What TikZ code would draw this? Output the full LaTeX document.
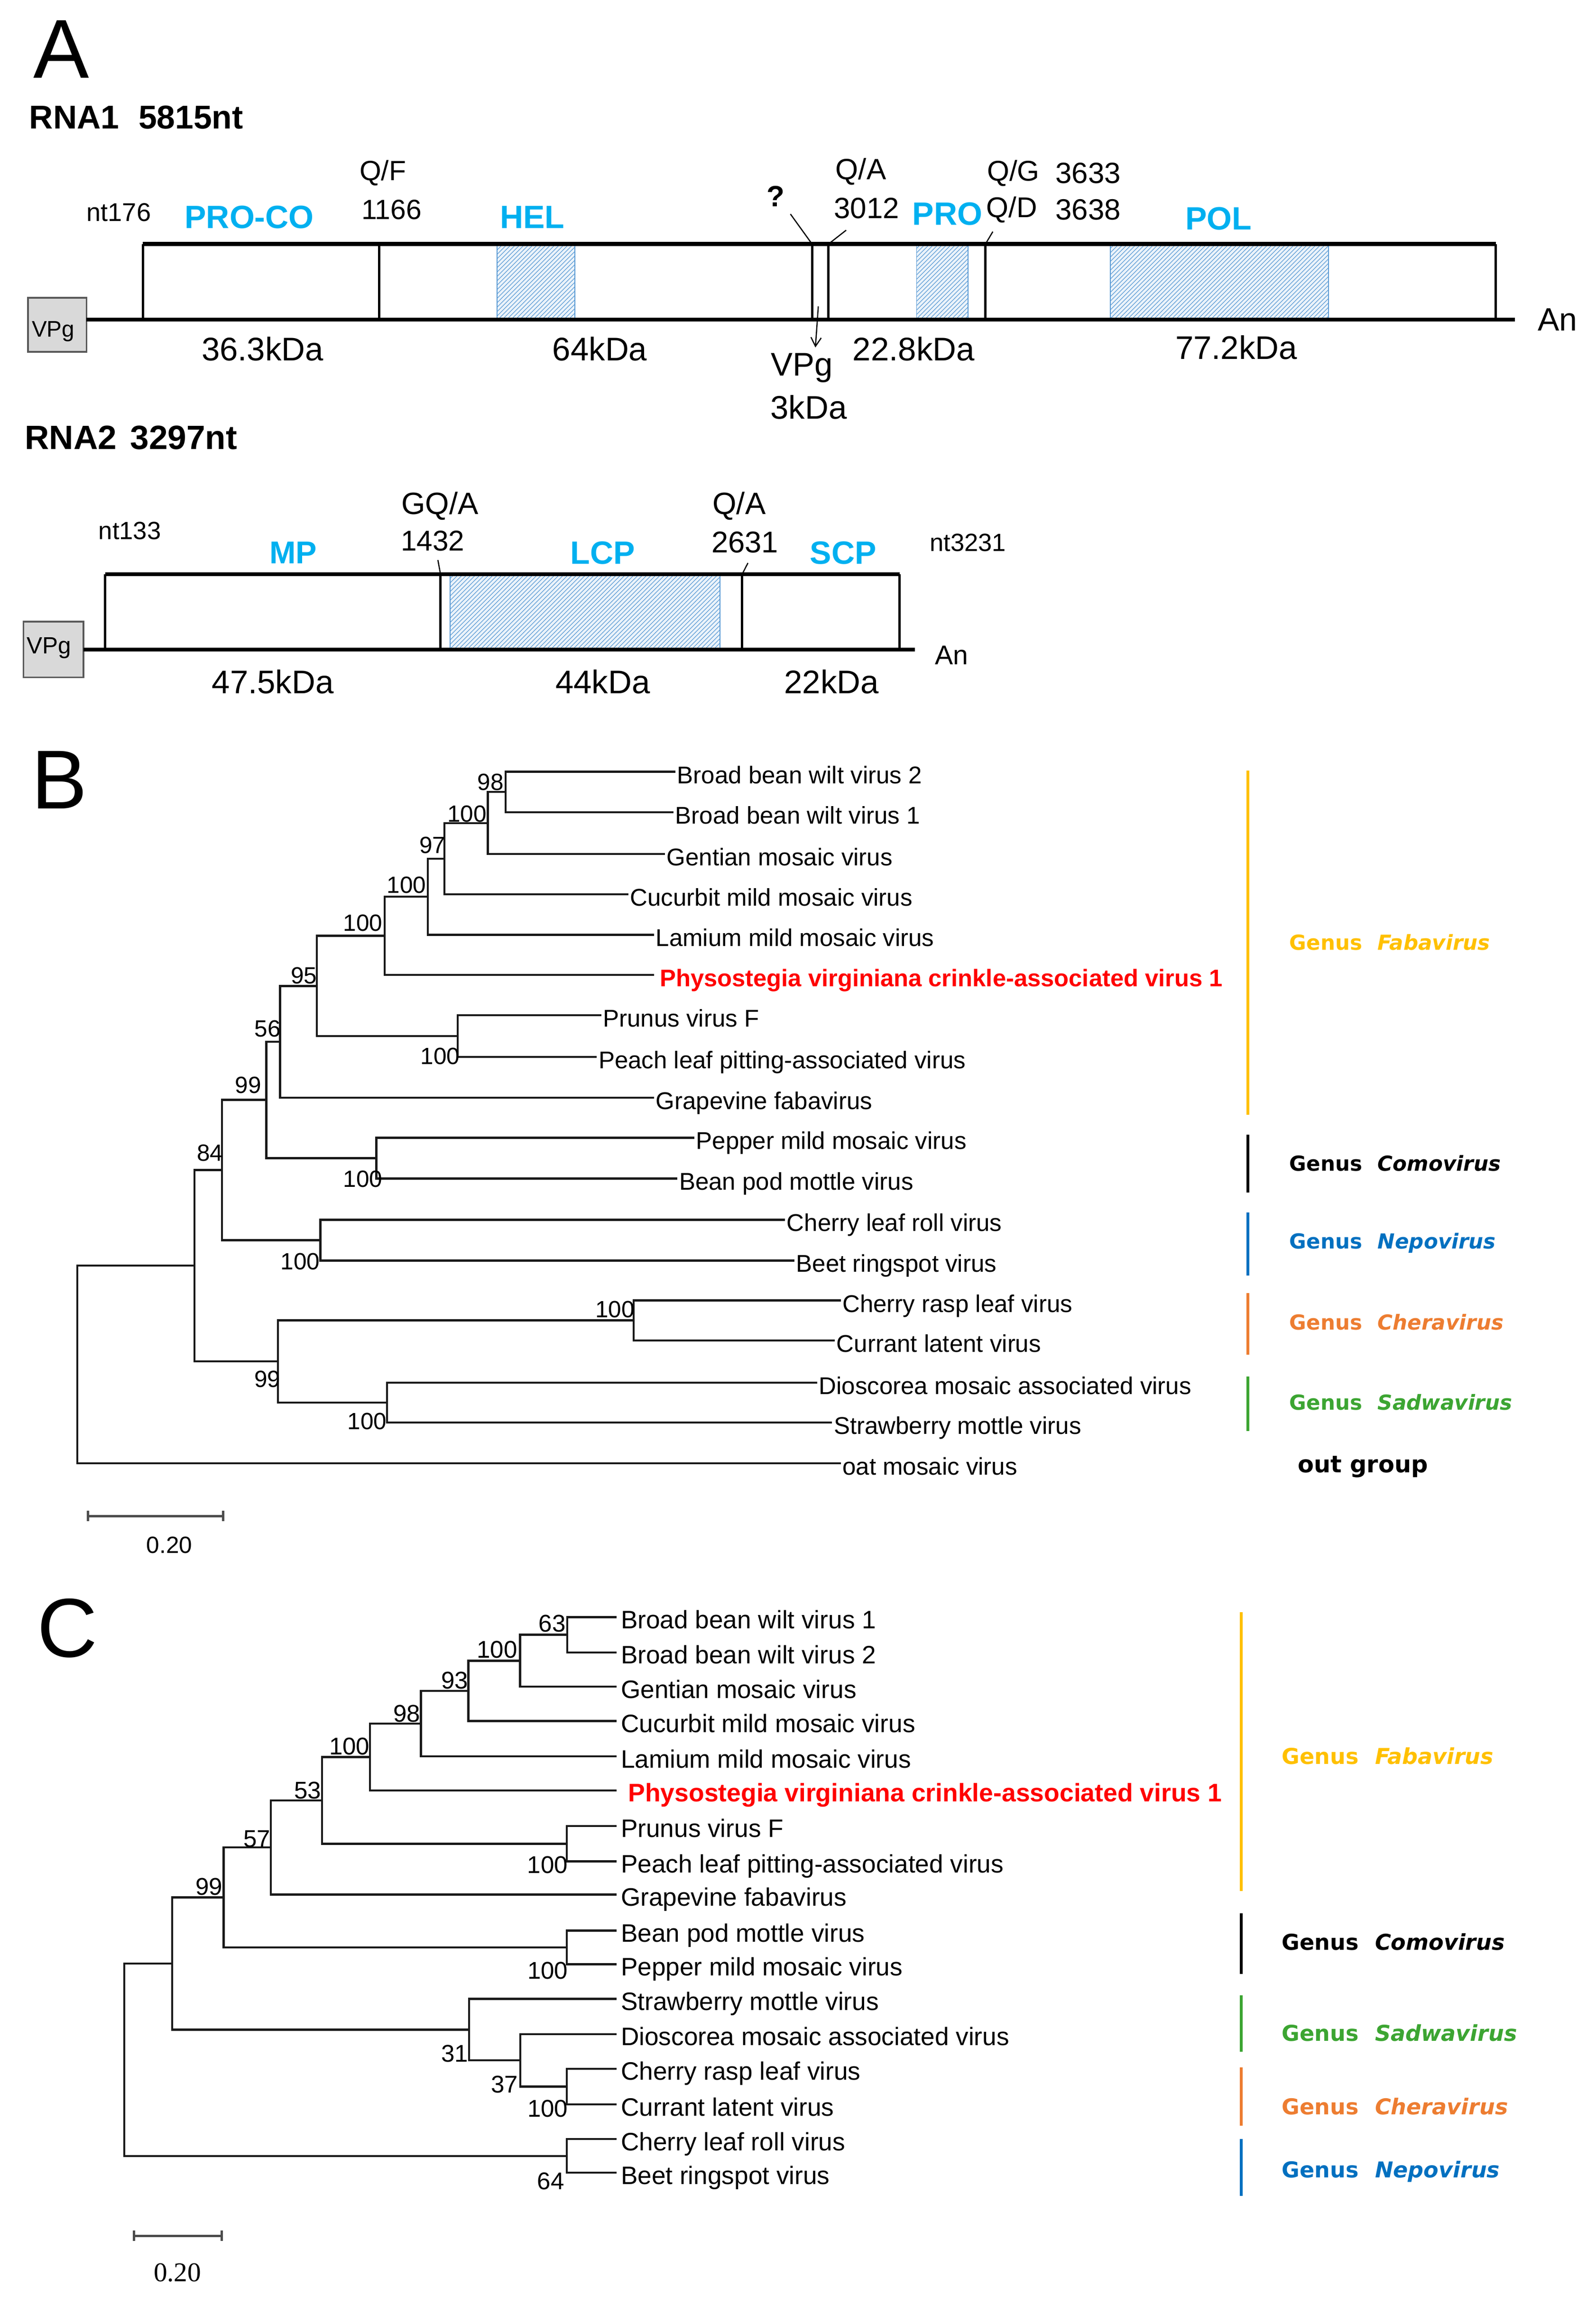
\documentclass[tikz,border=0pt]{standalone}
\usepackage{fontspec}
\setmainfont{Liberation Sans}
\newfontfamily\dvsans{DejaVu Sans}
\newfontfamily\lserif{Liberation Serif}
\usetikzlibrary{patterns,arrows.meta}
\definecolor{cyanlbl}{RGB}{0,176,240}
\definecolor{hatchblue}{RGB}{91,155,213}
\definecolor{faba}{RGB}{255,192,0}
\definecolor{como}{RGB}{0,0,0}
\definecolor{nepo}{RGB}{0,112,192}
\definecolor{chera}{RGB}{237,125,49}
\definecolor{sadwa}{RGB}{60,165,50}
\definecolor{virusred}{RGB}{255,0,0}
\definecolor{vpggray}{RGB}{217,217,217}
\newcommand\fsz[1]{\fontsize{#1pt}{#1pt}\selectfont}
\begin{document}
\begin{tikzpicture}[x=1pt,y=-1pt,
 every node/.style={inner sep=0pt,outer sep=0pt},
 panel/.style={font=\fsz{57}},
 rnatitle/.style={anchor=base west,font=\bfseries\fsz{22.5}},
 protlbl/.style={font=\bfseries\fsz{22},text=cyanlbl},
 kdalbl/.style={font=\fsz{22.3}},
 boxedge/.style={line width=1.6pt},
 boxlong/.style={line width=2.6pt},
 leader/.style={line width=0.8pt},
 ptr/.style={line width=0.8pt,-{Straight Barb[length=6pt,width=7pt]}},
 hatch/.style={fill=hatchblue!12,postaction={pattern=north east lines,pattern color=hatchblue},draw=hatchblue,line width=0.6pt},
 vpgbox/.style={fill=vpggray,draw=black!65,line width=1.2pt},
 branch/.style={line width=1.4pt,draw=black!90},
 taxB/.style={anchor=base west,font=\fsz{16.5},xshift=1.2pt,yshift=-7.9pt},
 redB/.style={anchor=base west,font=\bfseries\fsz{16.4},text=virusred,xshift=4pt,yshift=-7.9pt},
 taxC/.style={anchor=base west,font=\fsz{17.2},xshift=3pt,yshift=-7.7pt},
 redC/.style={anchor=base west,font=\bfseries\fsz{17.3},text=virusred,xshift=8pt,yshift=-7.7pt},
 bsB/.style={anchor=base east,font=\fsz{16}},
 bsC/.style={anchor=base east,font=\fsz{16.5}},
 genusB/.style={anchor=base west,font=\dvsans\bfseries\fsz{14.1}},
 genusC/.style={anchor=base west,font=\dvsans\bfseries\fsz{14.9}},
 genusbar/.style={line width=2pt},
 scalebar/.style={line width=1.6pt,draw=black!70,{Bar[width=7pt]}-{Bar[width=7pt]}}
]
\fill[white] (0,0) rectangle (1088,1571.5);
\useasboundingbox (0,0) rectangle (1088,1571.5);

%================ PANEL A =================
\node[panel] (pA) at (41.7,33.5) {A};
\node[rnatitle] (rna1) at (20,87.9) {RNA1\hspace{0.59em}5815nt};

% RNA1 genome
\draw[hatch] (339,166.4) rectangle (392,218);
\draw[hatch] (625,166.4) rectangle (660,218);
\draw[hatch] (757,166.4) rectangle (906,218);
\draw[boxlong] (97.4,166.4) -- (1020,166.4);
\draw[boxedge] (97.4,166.4) -- (97.4,218);
\draw[boxedge] (1020,166.4) -- (1020,218);
\draw[boxedge] (258.5,166.4) -- (258.5,218);
\draw[boxedge] (553.7,166.4) -- (553.7,218);
\draw[boxedge] (564.7,166.4) -- (564.7,218);
\draw[boxedge] (672,166.4) -- (672,218);
\draw[vpgbox] (19,203) rectangle (59,240);
\draw[boxlong] (59,218) -- (1033,218);
\node[font=\fsz{15.4}] (vpg1) at (36.3,226) {VPg};

\node[font=\fsz{17.5}] (nt176) at (81,145) {nt176};
\node[protlbl] (proco) at (170,148) {PRO-CO};
\node[font=\fsz{19}] (qf) at (261,118) {Q/F};
\node[font=\fsz{19}] (s1166) at (267,143) {1166};
\node[protlbl] (hel) at (363,148) {HEL};
\node[font=\bfseries\fsz{20}] (qm) at (529,134) {?};
\node[font=\fsz{20}] (qa1) at (587,117) {Q/A};
\node[font=\fsz{20}] (s3012) at (591,142) {3012};
\node[protlbl] (pro) at (646,146) {PRO};
\node[font=\fsz{19.5}] (qg) at (691,118) {Q/G};
\node[font=\fsz{20}] (s3633) at (742,118) {3633};
\node[font=\fsz{19.5}] (qd) at (690,143) {Q/D};
\node[font=\fsz{20}] (s3638) at (742,143) {3638};
\node[protlbl] (pol) at (831,149) {POL};
\node[font=\fsz{22}] (an1) at (1062,218) {An};
\node[kdalbl] (k363) at (179,238) {36.3kDa};
\node[kdalbl] (k64) at (409,238) {64kDa};
\node[kdalbl] (k228) at (623,238) {22.8kDa};
\node[kdalbl] (k772) at (843,237) {77.2kDa};
\node[kdalbl] (vpg1b) at (546.7,251) {VPg};
\node[kdalbl] (k3) at (551.4,277.7) {3kDa};

\coordinate (lq1) at (539,146); \coordinate (lq2) at (553.7,166.4);
\coordinate (la1) at (577,157); \coordinate (la2) at (565,166.4);
\coordinate (lg1) at (677,158); \coordinate (lg2) at (672,166.4);
\draw[leader] (lq1) -- (lq2);
\draw[leader] (la1) -- (la2);
\draw[leader] (lg1) -- (lg2);
\coordinate (arrS) at (558,209); \coordinate (arrE) at (556,237);
\draw[ptr] (arrS) -- (arrE);

% RNA2 genome
\node[anchor=base west,font=\bfseries\fsz{23}] (rna2) at (17,306.4) {RNA2\hspace{0.4em}3297nt};
\draw[hatch] (307,391.8) rectangle (491,443);
\draw[boxlong] (71.7,391.8) -- (613.5,391.8);
\draw[boxedge] (71.7,391.8) -- (71.7,443);
\draw[boxedge] (613.5,391.8) -- (613.5,443);
\draw[boxedge] (300.4,391.8) -- (300.4,443);
\draw[boxedge] (506,391.8) -- (506,443);
\draw[vpgbox] (16,424) rectangle (57,462);
\draw[boxlong] (57,443) -- (624,443);
\node[font=\fsz{16}] (vpg2) at (33.4,442) {VPg};

\node[font=\fsz{17}] (nt133) at (88.5,362) {nt133};
\node[protlbl,font=\bfseries\fsz{21.5}] (mp) at (200,377) {MP};
\node[font=\fsz{21}] (gqa) at (300,345) {GQ/A};
\node[font=\fsz{19.5}] (s1432) at (295,369) {1432};
\node[protlbl] (lcp) at (411,377) {LCP};
\node[font=\fsz{21}] (qa2) at (504,345) {Q/A};
\node[font=\fsz{20.5}] (s2631) at (508,370) {2631};
\node[protlbl] (scp) at (575,377) {SCP};
\node[font=\fsz{17}] (nt3231) at (660,370) {nt3231};
\node[font=\fsz{18.5}] (an2) at (649,447) {An};
\node[kdalbl] (k475) at (186,465) {47.5kDa};
\node[kdalbl] (k44) at (411,465) {44kDa};
\node[kdalbl] (k22) at (567,465) {22kDa};
\coordinate (lm1) at (298.6,382); \coordinate (lm2) at (300.4,391.8);
\coordinate (ln1) at (510,384); \coordinate (ln2) at (506,391.8);
\draw[leader] (lm1) -- (lm2);
\draw[leader] (ln1) -- (ln2);

%================ PANEL B =================
\node[panel] (pB) at (40.5,532) {B};
\coordinate (b1) at (460.6,526.4);
\coordinate (b2) at (459.3,554);
\coordinate (b3) at (453.4,582.5);
\coordinate (b4) at (428.5,610);
\coordinate (b5) at (446,637.6);
\coordinate (b6) at (446,664.9);
\coordinate (b7) at (410,692.4);
\coordinate (b8) at (407,721);
\coordinate (b9) at (446,748.6);
\coordinate (b10) at (473.5,776);
\coordinate (b11) at (462,803.8);
\coordinate (b12) at (535.3,832);
\coordinate (b13) at (541.7,859.8);
\coordinate (b14) at (573.3,887);
\coordinate (b15) at (569.3,914.3);
\coordinate (b16) at (557.2,943);
\coordinate (b17) at (567.4,970.3);
\coordinate (b18) at (573.3,998);
\coordinate (nA) at (344.8,540.2);
\coordinate (nB) at (332.6,561.35);
\coordinate (nC) at (303,585.7);
\coordinate (nD) at (291.8,611.6);
\coordinate (nE) at (262.3,638.3);
\coordinate (nF) at (312,706.7);
\coordinate (nG) at (216,672.5);
\coordinate (nH) at (191,710.6);
\coordinate (nI) at (256.6,789.9);
\coordinate (nJ) at (181.6,750.2);
\coordinate (nK) at (218.5,845.9);
\coordinate (nL) at (151.4,798);
\coordinate (nM) at (432,900.6);
\coordinate (nN) at (264,956.6);
\coordinate (nO) at (189.5,928.6);
\coordinate (nP) at (132.6,863.3);
\coordinate (rootB) at (52.7,930.6);
\foreach \p/\c in {rootB/nP,rootB/b18,nP/nL,nP/nO,nL/nJ,nL/nK,nJ/nH,nJ/nI,nH/nG,nH/b9,nG/nE,nG/nF,nE/nD,nE/b6,nD/nC,nD/b5,nC/nB,nC/b4,nB/nA,nB/b3,nA/b1,nA/b2,nF/b7,nF/b8,nI/b10,nI/b11,nK/b12,nK/b13,nO/nM,nO/nN,nM/b14,nM/b15,nN/b16,nN/b17}
  \draw[branch] (\p) |- (\c);

\node[taxB] (tb1) at (b1) {Broad bean wilt virus 2};
\node[taxB] (tb2) at (b2) {Broad bean wilt virus 1};
\node[taxB] (tb3) at (b3) {Gentian mosaic virus};
\node[taxB] (tb4) at (b4) {Cucurbit mild mosaic virus};
\node[taxB] (tb5) at (b5) {Lamium mild mosaic virus};
\node[redB] (tb6) at (b6) {Physostegia virginiana crinkle-associated virus 1};
\node[taxB] (tb7) at (b7) {Prunus virus F};
\node[taxB] (tb8) at (b8) {Peach leaf pitting-associated virus};
\node[taxB] (tb9) at (b9) {Grapevine fabavirus};
\node[taxB] (tb10) at (b10) {Pepper mild mosaic virus};
\node[taxB] (tb11) at (b11) {Bean pod mottle virus};
\node[taxB] (tb12) at (b12) {Cherry leaf roll virus};
\node[taxB] (tb13) at (b13) {Beet ringspot virus};
\node[taxB] (tb14) at (b14) {Cherry rasp leaf virus};
\node[taxB] (tb15) at (b15) {Currant latent virus};
\node[taxB] (tb16) at (b16) {Dioscorea mosaic associated virus};
\node[taxB] (tb17) at (b17) {Strawberry mottle virus};
\node[taxB] (tb18) at (b18) {oat mosaic virus};

\node[bsB] (bA) at (343.4,539) {98};
\node[bsB] (bB) at (331.7,560.7) {100};
\node[bsB] (bC) at (303.7,582) {97};
\node[bsB] (bD) at (290.5,609) {100};
\node[bsB] (bE) at (260.7,635) {100};
\node[bsB] (bG) at (216.1,671) {95};
\node[bsB] (bH) at (191.4,707) {56};
\node[bsB] (bJ) at (178.2,745.5) {99};
\node[bsB] (bL) at (152.1,792) {84};
\node[bsB] (bM) at (432.7,898.7) {100};
\node[bsB] (bF) at (313.5,725.9) {100};
\node[bsB] (bI) at (260.7,809.6) {100};
\node[bsB] (bK) at (218.1,866) {100};
\node[bsB] (bO) at (191.3,946) {99};
\node[bsB] (bN) at (263.7,975) {100};

\coordinate (gb1a) at (850.8,525.6); \coordinate (gb1b) at (850.8,760.4);
\coordinate (gb2a) at (850.8,774);   \coordinate (gb2b) at (850.8,813.5);
\coordinate (gb3a) at (850.8,827);   \coordinate (gb3b) at (850.8,870);
\coordinate (gb4a) at (850.8,882);   \coordinate (gb4b) at (850.8,924);
\coordinate (gb5a) at (850.8,939);   \coordinate (gb5b) at (850.8,976);
\draw[genusbar,faba] (gb1a) -- (gb1b);
\draw[genusbar,como] (gb2a) -- (gb2b);
\draw[genusbar,nepo] (gb3a) -- (gb3b);
\draw[genusbar,chera] (gb4a) -- (gb4b);
\draw[genusbar,sadwa] (gb5a) -- (gb5b);
\node[genusB,text=faba] (gB1) at (879.3,648.1) {Genus\hspace{0.75em}\textit{Fabavirus}};
\node[genusB,text=como] (gB2) at (879.3,798.8) {Genus\hspace{0.75em}\textit{Comovirus}};
\node[genusB,text=nepo] (gB3) at (879.3,851.8) {Genus\hspace{0.75em}\textit{Nepovirus}};
\node[genusB,text=chera] (gB4) at (879.3,907.1) {Genus\hspace{0.75em}\textit{Cheravirus}};
\node[genusB,text=sadwa] (gB5) at (879.3,961.8) {Genus\hspace{0.75em}\textit{Sadwavirus}};
\node[anchor=base west,font=\dvsans\bfseries\fsz{16}] (gB6) at (885,1004.3) {out group};

\coordinate (sbB1) at (59.2,1034); \coordinate (sbB2) at (153,1034);
\draw[scalebar] (sbB1) -- (sbB2);
\node[font=\fsz{16}] (sbBl) at (115.5,1053.7) {0.20};

%================ PANEL C =================
\node[panel] (pC) at (46,1110.5) {C};
\coordinate (c1) at (420.4,1103);
\coordinate (c2) at (420.4,1127);
\coordinate (c3) at (420.4,1150.5);
\coordinate (c4) at (420.4,1173.8);
\coordinate (c5) at (420.4,1198);
\coordinate (c6) at (420.4,1221.2);
\coordinate (c7) at (420.4,1245.5);
\coordinate (c8) at (420.4,1269.6);
\coordinate (c9) at (420.4,1292.2);
\coordinate (c10) at (420.4,1316.8);
\coordinate (c11) at (420.4,1339.8);
\coordinate (c12) at (420.4,1363.4);
\coordinate (c13) at (420.4,1387.4);
\coordinate (c14) at (420.4,1411);
\coordinate (c15) at (420.4,1435.4);
\coordinate (c16) at (420.4,1459);
\coordinate (c17) at (420.4,1482);
\coordinate (m63) at (386.9,1115);
\coordinate (mHa) at (354.6,1132.8);
\coordinate (m93) at (319.4,1153.3);
\coordinate (m98) at (287,1175.6);
\coordinate (mHb) at (252.3,1198.4);
\coordinate (mPr) at (386.4,1257.6);
\coordinate (m53) at (219.5,1228);
\coordinate (m57) at (184.7,1260.1);
\coordinate (mCo) at (386.5,1328.3);
\coordinate (m99) at (152.5,1294.2);
\coordinate (mCh) at (386.5,1423.2);
\coordinate (m37) at (354.8,1405.3);
\coordinate (m31) at (319.9,1384.4);
\coordinate (mX) at (117.5,1339.3);
\coordinate (mNe) at (386.5,1470.5);
\coordinate (rootC) at (84.7,1404.9);
\foreach \p/\c in {rootC/mX,rootC/mNe,mX/m99,mX/m31,m99/m57,m99/mCo,m57/m53,m57/c9,m53/mHb,m53/mPr,mHb/m98,mHb/c6,m98/m93,m98/c5,m93/mHa,m93/c4,mHa/m63,mHa/c3,m63/c1,m63/c2,mPr/c7,mPr/c8,mCo/c10,mCo/c11,m31/c12,m31/m37,m37/c13,m37/mCh,mCh/c14,mCh/c15,mNe/c16,mNe/c17}
  \draw[branch] (\p) |- (\c);

\node[taxC] (tc1) at (c1) {Broad bean wilt virus 1};
\node[taxC] (tc2) at (c2) {Broad bean wilt virus 2};
\node[taxC] (tc3) at (c3) {Gentian mosaic virus};
\node[taxC] (tc4) at (c4) {Cucurbit mild mosaic virus};
\node[taxC] (tc5) at (c5) {Lamium mild mosaic virus};
\node[redC] (tc6) at (c6) {Physostegia virginiana crinkle-associated virus 1};
\node[taxC] (tc7) at (c7) {Prunus virus F};
\node[taxC] (tc8) at (c8) {Peach leaf pitting-associated virus};
\node[taxC] (tc9) at (c9) {Grapevine fabavirus};
\node[taxC] (tc10) at (c10) {Bean pod mottle virus};
\node[taxC] (tc11) at (c11) {Pepper mild mosaic virus};
\node[taxC] (tc12) at (c12) {Strawberry mottle virus};
\node[taxC] (tc13) at (c13) {Dioscorea mosaic associated virus};
\node[taxC] (tc14) at (c14) {Cherry rasp leaf virus};
\node[taxC] (tc15) at (c15) {Currant latent virus};
\node[taxC] (tc16) at (c16) {Cherry leaf roll virus};
\node[taxC] (tc17) at (c17) {Beet ringspot virus};

\node[bsC] (cb63) at (385.7,1113) {63};
\node[bsC] (cbHa) at (352.7,1130.8) {100};
\node[bsC] (cb93) at (319.3,1152) {93};
\node[bsC] (cb98) at (286.6,1174.4) {98};
\node[bsC] (cbHb) at (252,1196.7) {100};
\node[bsC] (cb53) at (219,1227) {53};
\node[bsC] (cb57) at (184.4,1259.8) {57};
\node[bsC] (cb99) at (151.7,1292.4) {99};
\node[bsC] (cbPr) at (387.1,1277.5) {100};
\node[bsC] (cbCo) at (387.2,1349.9) {100};
\node[bsC] (cb31) at (319.3,1406.5) {31};
\node[bsC] (cb37) at (353.2,1427.5) {37};
\node[bsC] (cbCh) at (387.2,1444) {100};
\node[bsC] (cb64) at (384.7,1493.4) {64};

\coordinate (gc1a) at (846.5,1099.5); \coordinate (gc1b) at (846.5,1289.8);
\coordinate (gc2a) at (846.5,1305);   \coordinate (gc2b) at (846.5,1346.3);
\coordinate (gc3a) at (846.5,1361);   \coordinate (gc3b) at (846.5,1399.5);
\coordinate (gc4a) at (846.5,1410);   \coordinate (gc4b) at (846.5,1449.8);
\coordinate (gc5a) at (846.5,1459);   \coordinate (gc5b) at (846.5,1497.7);
\draw[genusbar,faba] (gc1a) -- (gc1b);
\draw[genusbar,como] (gc2a) -- (gc2b);
\draw[genusbar,sadwa] (gc3a) -- (gc3b);
\draw[genusbar,chera] (gc4a) -- (gc4b);
\draw[genusbar,nepo] (gc5a) -- (gc5b);
\node[genusC,text=faba] (gC1) at (874,1203.4) {Genus\hspace{0.75em}\textit{Fabavirus}};
\node[genusC,text=como] (gC2) at (874,1330.1) {Genus\hspace{0.75em}\textit{Comovirus}};
\node[genusC,text=sadwa] (gC3) at (874,1392.2) {Genus\hspace{0.75em}\textit{Sadwavirus}};
\node[genusC,text=chera] (gC4) at (874,1442.3) {Genus\hspace{0.75em}\textit{Cheravirus}};
\node[genusC,text=nepo] (gC5) at (874,1485.2) {Genus\hspace{0.75em}\textit{Nepovirus}};

\coordinate (sbC1) at (90.7,1525); \coordinate (sbC2) at (152,1525);
\draw[scalebar] (sbC1) -- (sbC2);
\node[font=\lserif\fsz{18.5}] (sbCl) at (121,1550) {0.20};
\end{tikzpicture}
\end{document}
